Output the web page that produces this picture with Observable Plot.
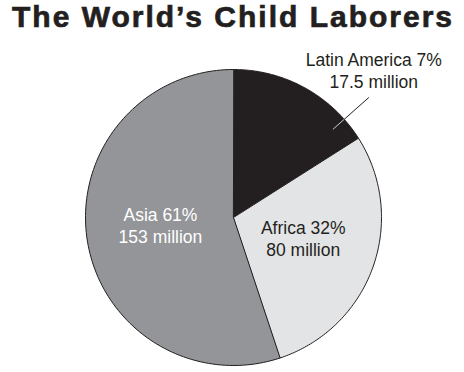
<!DOCTYPE html>
<html>
<head>
<meta charset="utf-8">
<script src="https://cdn.jsdelivr.net/npm/d3@7"></script>
<script src="https://cdn.jsdelivr.net/npm/@observablehq/plot@0.6"></script>
<style>
  html, body { margin: 0; padding: 0; background: #fff; }
  #title { font-family: "Liberation Sans", Arial, sans-serif; font-weight: 700; font-size: 30px;
           letter-spacing: 2px; line-height: 34px; height: 36px; padding-left: 12px; color: #231f20;
           -webkit-text-stroke: 0.7px #231f20; white-space: nowrap; }
  #chart svg { display: block; }
</style>
</head>
<body>
<div id="title">The World’s Child Laborers</div>
<div id="chart"></div>
<script>
// Data
const regions = ["Latin America", "Africa", "Asia"];
const sliceShares = [16.0, 28.9, 55.1];   // drawn slice sizes (% of circle as pictured)
const percentLabels = ["7%", "32%", "61%"];
const millionLabels = ["17.5 million", "80 million", "153 million"];

// Styles
const fills = ["#231f20", "#e3e4e5", "#939598"];
const textColors = ["#231f20", "#231f20", "#ffffff"];

const pie = d3.pie().sort(null).value(d => d)(sliceShares);

// polygon points for each slice
const slicePts = [];
pie.forEach((p, i) => {
  const n = 120;
  slicePts.push({region: regions[i], x: 0, y: 0});
  for (let k = 0; k <= n; k++) {
    const a = p.startAngle + (p.endAngle - p.startAngle) * k / n;
    slicePts.push({region: regions[i], x: Math.sin(a), y: Math.cos(a)});
  }
});

// labels
const labelData = regions.map((r, i) => {
  const p = pie[i];
  const mid = (p.startAngle + p.endAngle) / 2;
  const inside = i !== 0;
  const rr = inside ? 0.5 : 1.0;
  return {
    region: r,
    text: `${r} ${percentLabels[i]}\n${millionLabels[i]}`,
    x: Math.sin(mid) * rr,
    y: Math.cos(mid) * rr,
    inside,
    color: textColors[i]
  };
});

// leader line for the outside label (Latin America)
const lp = pie[0];
const leadAngle = lp.endAngle - 0.16;
const leaderIn = [0.9, 1.0].map(t => ({x: Math.sin(leadAngle) * t, y: Math.cos(leadAngle) * t}));
const leaderOut = [1.0, 1.22].map(t => ({x: Math.sin(leadAngle) * t, y: Math.cos(leadAngle) * t}));

const cx = 233, cy = 181, R = 148;

const chart = Plot.plot({
  width: 464,
  height: 336,
  margin: 0,
  x: {domain: [-1, 1], range: [cx - R, cx + R], axis: null},
  y: {domain: [-1, 1], range: [cy + R, cy - R], axis: null},
  marks: [
    ...regions.map((r, i) => Plot.line(slicePts.filter(d => d.region === r), {
      x: "x", y: "y", curve: "linear-closed",
      fill: fills[i], stroke: "#231f20", strokeWidth: 1
    })),
    Plot.line(leaderIn, {x: "x", y: "y", stroke: "#cfcfcf", strokeWidth: 1}),
    Plot.line(leaderOut, {x: "x", y: "y", stroke: "#231f20", strokeWidth: 1}),
    Plot.text(labelData.filter(d => d.inside), {
      x: "x", y: "y", text: "text", fill: d => d.color,
      fontSize: 17.5, lineHeight: 1.25, fontFamily: "Liberation Sans, Arial, sans-serif",
      dy: -4
    }),
    Plot.text(labelData.filter(d => !d.inside), {
      x: "x", y: "y", text: "text", fill: d => d.color,
      fontSize: 17.5, lineHeight: 1.25, fontFamily: "Liberation Sans, Arial, sans-serif",
      dx: 69, dy: -18
    })
  ]
});
document.getElementById("chart").appendChild(chart);
</script>
</body>
</html>
